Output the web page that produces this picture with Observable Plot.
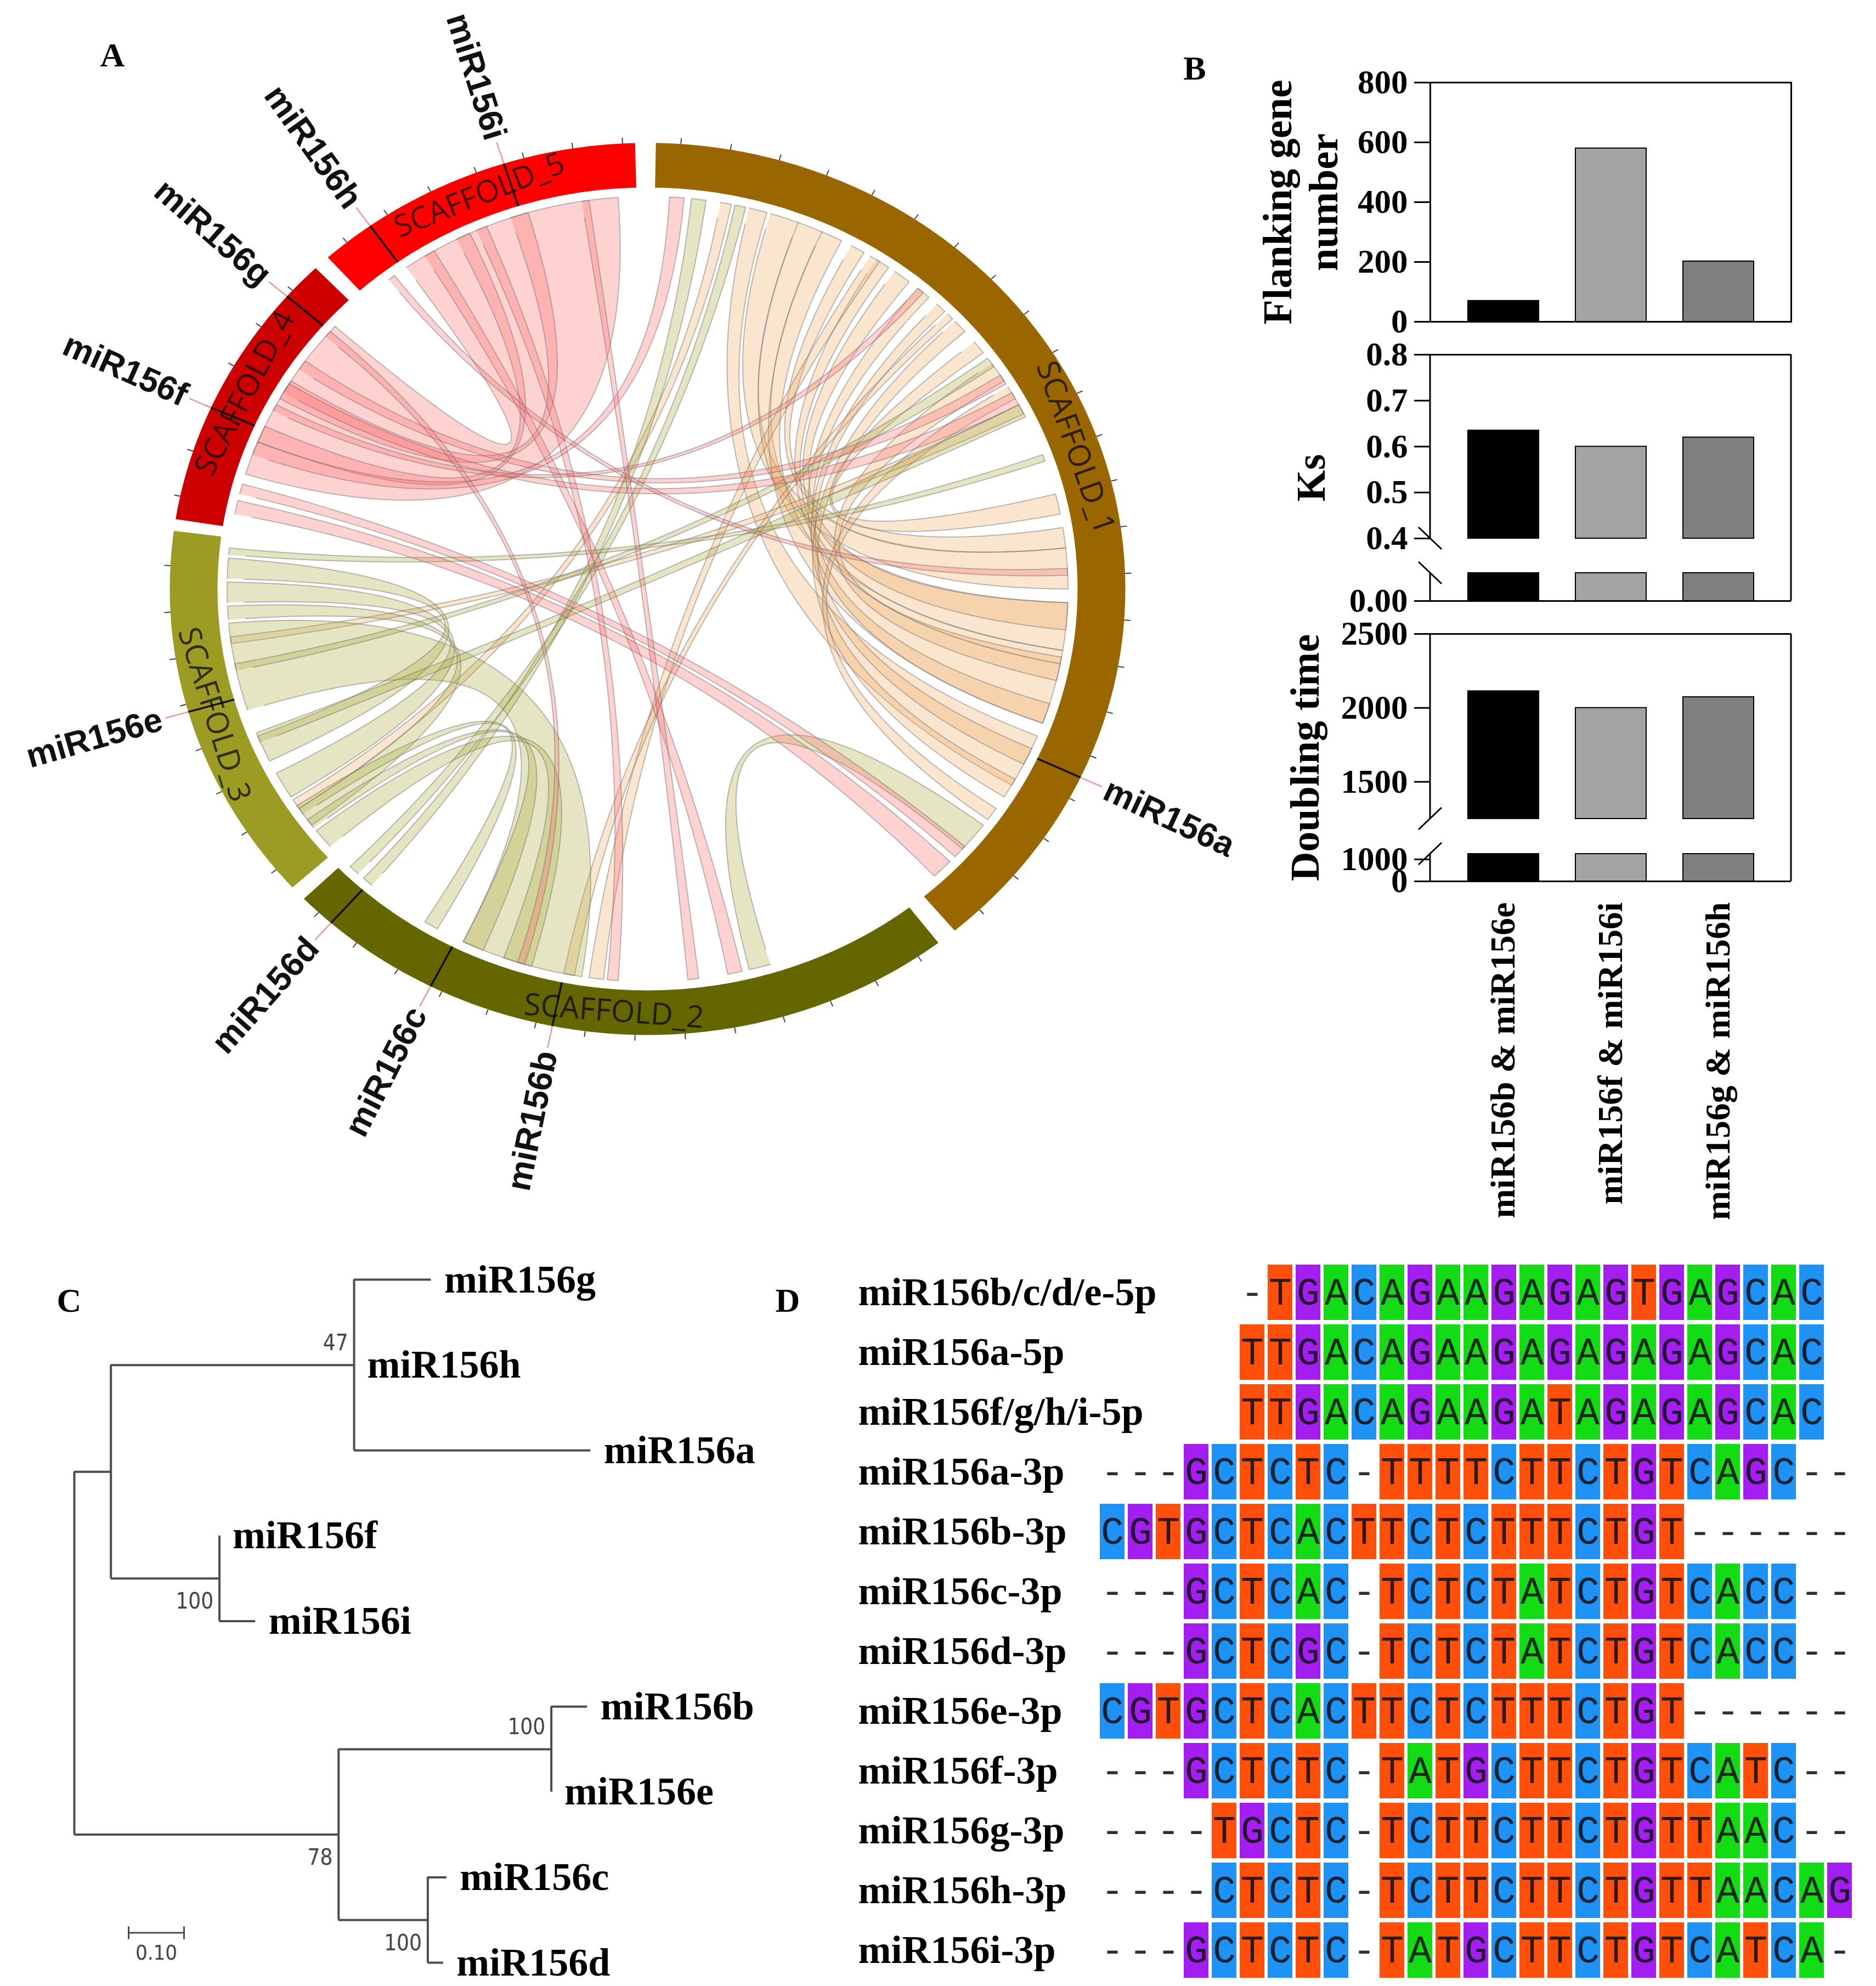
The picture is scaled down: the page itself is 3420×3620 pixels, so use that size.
<!DOCTYPE html>
<html>
<head>
<meta charset="utf-8">
<script src="https://cdn.jsdelivr.net/npm/d3@7"></script>
<script src="https://cdn.jsdelivr.net/npm/@observablehq/plot@0.6"></script>
<style>
  html, body { margin: 0; padding: 0; background: #fff; }
  #page { position: relative; width: 3420px; height: 3620px; overflow: hidden; background: #fff; }
  .panel { position: absolute; }
  .panel svg { max-width: none !important; }
</style>
</head>
<body>
<div id="page"></div>
<script>
// ---------------- DATA ----------------
// Panel A: circos plot
const scaffoldNames  = ["SCAFFOLD_1", "SCAFFOLD_2", "SCAFFOLD_3", "SCAFFOLD_4", "SCAFFOLD_5"];
const scaffoldStart  = [1, 142.5, 228, 279, 318];     // degrees, clockwise from top
const scaffoldEnd    = [140, 226, 277.5, 316, 358.5];
const scaffoldColors = ["#9a6600", "#666600", "#9c9c24", "#cc0000", "#ff0000"];
const mirNames  = ["miR156a", "miR156b", "miR156c", "miR156d", "miR156e", "miR156f", "miR156g", "miR156h", "miR156i"];
const mirAngles = [115, 191.5, 207, 221.5, 254, 294, 311, 324.5, 342.5];
// links: [sourceStart, sourceEnd, targetStart, targetEnd, group]
const links = [
  [17, 21, 84, 90, "o"], [21, 24.5, 92, 99, "o"], [24.5, 27.5, 101, 110, "o"], [14, 16.5, 112, 120, "o"],
  [29, 31, 81, 84, "o"], [33, 35, 99, 101, "o"], [36, 38.5, 92, 96, "o"],
  [40, 42, 107, 110, "o"], [43.5, 45, 114, 116.5, "o"], [47, 49, 119, 122, "o"], [51, 53, 76, 79, "o"],
  [55, 58, 100, 103.5, "o"], [59, 61, 124, 126, "o"], [32, 33.5, 186, 188, "o"], [45.5, 46.5, 190, 191.5, "o"],
  [10, 11.5, 236, 237.5, "o"], [62, 63.5, 262, 263, "o"],
  [252, 265, 189, 206, "g"], [268, 271, 238, 242, "g"], [271.5, 274.5, 244, 248, "g"], [265.5, 267.5, 233, 236, "g"],
  [229, 232, 196, 200, "g"], [232.5, 234, 203, 206, "g"], [235, 236.5, 210, 212, "g"], [221, 222.5, 6, 8, "g"],
  [223.5, 225, 12, 13.5, "g"], [247, 248.5, 62, 64, "g"], [258, 259, 54, 55.5, "g"], [163, 166, 127, 131.5, "g"],
  [275, 276, 70, 71, "g"],
  [325, 356, 287, 312, "p"], [341, 343.5, 299, 302, "p"], [333, 335, 292, 294.5, "p"], [328, 329.5, 167, 169, "p"],
  [336, 337.5, 184, 185.5, "p"], [281, 283, 134, 137, "p"], [284, 285.5, 131, 133, "p"], [300, 301.5, 60, 62, "p"],
  [304, 305.5, 57, 58.5, "p"], [290, 292, 3, 5, "p"], [322, 323, 87, 88, "p"], [310, 311, 197, 198, "p"],
  [351, 352, 173, 174.5, "p"], [297, 298, 40, 41, "p"]
];
const linkFill = {o: "#f0a860", g: "#a8a838", p: "#ff6a6a"};

// Panel B: bar charts
const pairs      = ["miR156b & miR156e", "miR156f & miR156i", "miR156g & miR156h"];
const barColors  = ["#000000", "#a3a3a6", "#7f7f7f"];
const flanking   = [70, 580, 202];
const ksValues   = [0.635, 0.60, 0.62];
const doubling   = [2113, 2000, 2073];
const flankTicks = [0, 200, 400, 600, 800];
const ksTicks    = [0, 0.4, 0.5, 0.6, 0.7, 0.8];
const dblTicks   = [0, 1000, 1500, 2000, 2500];
// broken-axis segments (value ranges kept on each side of the break)
const ksSegments  = [[0, 0.05], [0.4, 0.8]];
const dblSegments = [[0, 1100], [1250, 2500]];

// Panel C: neighbour-joining tree
const treeNodes     = ["root", "n1", "n2", "miR156g", "miR156h", "miR156a", "n3", "miR156f", "miR156i", "n4", "n5", "miR156b", "miR156e", "n6", "miR156c", "miR156d"];
const treeParents   = [null, "root", "n1", "n2", "n2", "n2", "n1", "n3", "n3", "root", "n4", "n5", "n5", "n4", "n6", "n6"];
const branchLengths = [0, 0.066, 0.439, 0.139, 0, 0.427, 0.196, 0, 0.065, 0.477, 0.384, 0.065, 0, 0.161, 0.034, 0.028];
const leafOrder     = ["miR156g", "miR156h", "miR156a", "miR156f", "miR156i", "miR156b", "miR156e", "miR156c", "miR156d"];
const bootstrapNodes  = ["n2", "n3", "n4", "n5", "n6"];
const bootstrapValues = [47, 100, 78, 100, 100];
const bootstrapAbove  = [true, false, false, true, false];
const scaleBarLength  = 0.10;

// Panel D: alignment
const alignNames = ["miR156b/c/d/e-5p", "miR156a-5p", "miR156f/g/h/i-5p", "miR156a-3p", "miR156b-3p", "miR156c-3p",
                    "miR156d-3p", "miR156e-3p", "miR156f-3p", "miR156g-3p", "miR156h-3p", "miR156i-3p"];
const alignSeqs = [
  "     -TGACAGAAGAGAGTGAGCAC ",
  "     TTGACAGAAGAGAGAGAGCAC ",
  "     TTGACAGAAGATAGAGAGCAC ",
  "---GCTCTC-TTTTCTTCTGTCAGC--",
  "CGTGCTCACTTCTCTTTCTGT------",
  "---GCTCAC-TCTCTATCTGTCACC--",
  "---GCTCGC-TCTCTATCTGTCACC--",
  "CGTGCTCACTTCTCTTTCTGT------",
  "---GCTCTC-TATGCTTCTGTCATC--",
  "----TGCTC-TCTTCTTCTGTTAAC--",
  "----CTCTC-TCTTCTTCTGTTAACAG",
  "---GCTCTC-TATGCTTCTGTCATCA-"
];
const ntColors = {T: "#ff4f0a", G: "#a41ef2", A: "#14dc14", C: "#1e92f5"};

// ---------------- HELPERS ----------------
const SERIF = "'Liberation Serif', 'Times New Roman', serif";
const SANS = "'Liberation Sans', Arial, sans-serif";
const NARROW = "'Liberation Sans Narrow', 'DejaVu Sans Condensed', 'Roboto Condensed', 'Liberation Sans', sans-serif";
const page = document.getElementById("page");
function place(node, left, top) {
  const div = document.createElement("div");
  div.className = "panel";
  div.style.left = left + "px";
  div.style.top = top + "px";
  div.appendChild(node);
  page.appendChild(div);
}
const rad = d => d * Math.PI / 180;
const px = (a, r) => r * Math.sin(rad(a));
const py = (a, r) => -r * Math.cos(rad(a));

// ---------------- PANEL A ----------------
const CX = 1180, CY = 1073, RX = 871, RY = 813;
const R_OUT = 1.0, R_IN = 0.9, R_LINK = 0.88;

const ringPts = [];
scaffoldNames.forEach((name, i) => {
  const s = scaffoldStart[i], e = scaffoldEnd[i];
  const n = Math.ceil((e - s) / 0.5);
  for (let k = 0; k <= n; k++) { const a = s + (e - s) * k / n; ringPts.push({id: i, x: px(a, R_OUT), y: py(a, R_OUT), fill: scaffoldColors[i]}); }
  for (let k = n; k >= 0; k--) { const a = s + (e - s) * k / n; ringPts.push({id: i, x: px(a, R_IN), y: py(a, R_IN), fill: scaffoldColors[i]}); }
});

const linkPts = [];
const groupOrder = ["o", "g", "p"];
const sortedLinks = links.slice().sort((a, b) => groupOrder.indexOf(a[4]) - groupOrder.indexOf(b[4]));
sortedLinks.forEach((l, id) => {
  const [a0, a1, b0, b1, grp] = l;
  const fill = linkFill[grp];
  const arc = (s, e) => {
    const n = Math.max(2, Math.ceil(Math.abs(e - s) / 0.5));
    for (let k = 0; k <= n; k++) { const a = s + (e - s) * k / n; linkPts.push({id, fill, x: px(a, R_LINK), y: py(a, R_LINK)}); }
  };
  const bez = (s, e) => {
    const x0 = px(s, R_LINK), y0 = py(s, R_LINK), x2 = px(e, R_LINK), y2 = py(e, R_LINK);
    for (let k = 1; k < 48; k++) { const t = k / 48, w0 = (1 - t) * (1 - t), w2 = t * t; linkPts.push({id, fill, x: w0 * x0 + w2 * x2, y: w0 * y0 + w2 * y2}); }
  };
  arc(a0, a1); bez(a1, b0); arc(b0, b1); bez(b1, a0);
});

const tickData = [];
scaffoldNames.forEach((name, i) => {
  for (let a = scaffoldStart[i] + 3; a < scaffoldEnd[i] - 1; a += 6) tickData.push(a);
});

const mirs = mirNames.map((name, i) => ({name, a: mirAngles[i]}));
const scaffoldLabels = scaffoldNames.map((name, i) => {
  const a = (scaffoldStart[i] + scaffoldEnd[i]) / 2;
  const rot = (a > 90 && a < 270) ? a - 180 : (a >= 270 ? a - 360 : a);
  return {name, a, rot};
});

const chord = Plot.plot({
  width: 2300, height: 2250, margin: 0,
  style: {background: "transparent", maxWidth: "none"},
  x: {domain: [-1, 1], range: [CX - RX, CX + RX], axis: null},
  y: {domain: [-1, 1], range: [CY - RY, CY + RY], axis: null},
  color: {type: "identity"},
  marks: [
    Plot.line(linkPts, {x: "x", y: "y", z: "id", fill: "fill", fillOpacity: 0.3, stroke: "#6d6d6d", strokeOpacity: 0.45, strokeWidth: 2, curve: "linear"}),
    Plot.line(ringPts, {x: "x", y: "y", z: "id", fill: "fill", stroke: "none", curve: "linear"}),
    Plot.link(tickData, {x1: a => px(a, R_OUT), y1: a => py(a, R_OUT), x2: a => px(a, 1.013), y2: a => py(a, 1.013), stroke: "#444", strokeWidth: 2}),
    Plot.link(mirs, {x1: d => px(d.a, R_IN), y1: d => py(d.a, R_IN), x2: d => px(d.a, R_OUT), y2: d => py(d.a, R_OUT), stroke: "#111", strokeWidth: 3.5}),
    Plot.link(mirs, {x1: d => px(d.a, R_OUT), y1: d => py(d.a, R_OUT), x2: d => px(d.a, 1.05), y2: d => py(d.a, 1.05), stroke: "#e89a9a", strokeWidth: 2.5}),
    Plot.text(mirs.filter(d => d.a < 180), {x: d => px(d.a, 1.058), y: d => py(d.a, 1.058), text: "name", rotate: d => d.a - 90, textAnchor: "start", fontSize: 62, fontWeight: "bold", fontFamily: SANS, fill: "#111"}),
    Plot.text(mirs.filter(d => d.a >= 180), {x: d => px(d.a, 1.058), y: d => py(d.a, 1.058), text: "name", rotate: d => d.a - 270, textAnchor: "end", fontSize: 62, fontWeight: "bold", fontFamily: SANS, fill: "#111"}),
    Plot.text(scaffoldLabels, {x: d => px(d.a, 0.95), y: d => py(d.a, 0.95), text: "name", rotate: "rot", textAnchor: "middle", fontSize: 56, fontFamily: "'Open Sans', 'Noto Sans', sans-serif", fill: "#000", fillOpacity: 0.7})
  ]
});
place(chord, 0, 0);

// ---------------- PANEL B ----------------
const flankData = pairs.map((p, i) => ({pair: p, v: flanking[i], color: barColors[i]}));
const ksData = pairs.map((p, i) => ({pair: p, v: ksValues[i], color: barColors[i]}));
const dblData = pairs.map((p, i) => ({pair: p, v: doubling[i], color: barColors[i]}));
const axisFont = {fontSize: 61, fontWeight: "bold", fontFamily: SERIF};

// piecewise-linear transforms that squeeze the gap of each broken axis (endpoints unchanged)
const ksTransform = d3.scaleLinear().domain([0, 0.05, 0.4, 0.8]).range([0, 0.0909, 0.2031, 0.8]);
const dblTransform = d3.scaleLinear().domain([0, 1000, 1100, 1250, 2500]).range([0, 221.7, 277.2, 632, 2500]);

function brokenFrame(segs, tf, slash) {
  return (index, scales, values, dim) => {
    const g = d3.create("svg:g").attr("stroke", "#000").attr("stroke-width", 3).attr("fill", "none");
    const xl = dim.marginLeft, xr = dim.width - dim.marginRight;
    const y = v => scales.y(tf(v));
    g.append("line").attr("x1", xr).attr("x2", xr).attr("y1", y(segs[segs.length - 1][1])).attr("y2", y(segs[0][0]));
    for (const [a, b] of segs) g.append("line").attr("x1", xl).attr("x2", xl).attr("y1", y(a)).attr("y2", y(b));
    const breaks = [segs[0][1], segs[1][0]];
    for (const v of breaks) {
      const yy = y(v);
      g.append("line").attr("x1", xl - 21).attr("x2", xl + 21)
        .attr("y1", yy + (slash ? 20 : -20)).attr("y2", yy + (slash ? -20 : 20));
    }
    return g.node();
  };
}

const flankPlot = Plot.plot({
  width: 1220, height: 540, marginLeft: 407, marginRight: 155, marginTop: 50, marginBottom: 54,
  style: {background: "transparent", maxWidth: "none", fontFamily: SERIF},
  x: {domain: pairs, padding: 0.343, axis: null},
  y: {domain: [0, 800]},
  color: {type: "identity"},
  marks: [
    Plot.barY(flankData, {x: "pair", y: "v", fill: "color", stroke: "#000", strokeWidth: 2}),
    Plot.frame({stroke: "#000", strokeWidth: 3}),
    Plot.axisY({ticks: flankTicks, tickSize: 29, tickPadding: 12, strokeWidth: 3, label: null, tickFormat: d => String(d), ...axisFont}),
    Plot.text(["Flanking gene\nnumber"], {frameAnchor: "left", dx: -238, rotate: -90, textAnchor: "middle", lineAnchor: "middle", lineHeight: 1.135, fontSize: 74, fontWeight: "bold", fontFamily: SERIF})
  ]
});
place(flankPlot, 2200, 100);

const ksPlot = Plot.plot({
  width: 1220, height: 550, marginLeft: 407, marginRight: 155, marginTop: 46, marginBottom: 55,
  style: {background: "transparent", maxWidth: "none", fontFamily: SERIF},
  x: {domain: pairs, padding: 0.343, axis: null},
  y: {domain: [0, 0.8], transform: ksTransform},
  color: {type: "identity"},
  marks: [
    Plot.barY(ksData, {x: "pair", y1: ksSegments[1][0], y2: "v", fill: "color", stroke: "#000", strokeWidth: 2}),
    Plot.barY(ksData, {x: "pair", y1: ksSegments[0][0], y2: ksSegments[0][1], fill: "color", stroke: "#000", strokeWidth: 2}),
    Plot.ruleY([0.8, 0], {stroke: "#000", strokeWidth: 3}),
    brokenFrame(ksSegments, ksTransform, false),
    // axis tick data are placed at transformed positions, labelled with the original values
    Plot.axisY({ticks: ksTicks.map(ksTransform), tickSize: 29, tickPadding: 12, strokeWidth: 3, label: null,
      tickFormat: d => { const v = Math.round(ksTransform.invert(d) * 100) / 100; return v === 0 ? "0.00" : v.toFixed(1); }, ...axisFont}),
    Plot.text(["Ks"], {frameAnchor: "left", dx: -216, rotate: -90, textAnchor: "middle", fontSize: 74, fontWeight: "bold", fontFamily: SERIF})
  ]
});
place(ksPlot, 2200, 600);

const dblPlot = Plot.plot({
  width: 1220, height: 1130, marginLeft: 407, marginRight: 155, marginTop: 35, marginBottom: 644,
  style: {background: "transparent", maxWidth: "none", fontFamily: SERIF},
  x: {domain: pairs, padding: 0.343},
  y: {domain: [0, 2500], transform: dblTransform},
  color: {type: "identity"},
  marks: [
    Plot.barY(dblData, {x: "pair", y1: dblSegments[1][0], y2: "v", fill: "color", stroke: "#000", strokeWidth: 2}),
    Plot.barY(dblData, {x: "pair", y1: dblSegments[0][0], y2: dblSegments[0][1], fill: "color", stroke: "#000", strokeWidth: 2}),
    Plot.ruleY([2500, 0], {stroke: "#000", strokeWidth: 3}),
    brokenFrame(dblSegments, dblTransform, true),
    Plot.axisY({ticks: dblTicks.map(dblTransform), tickSize: 29, tickPadding: 12, strokeWidth: 3, label: null,
      tickFormat: d => String(Math.round(dblTransform.invert(d))), ...axisFont}),
    Plot.axisX({tickRotate: -90, tickSize: 0, tickPadding: 38, label: null, fontSize: 64, fontWeight: "bold", fontFamily: SERIF}),
    Plot.text(["Doubling time"], {frameAnchor: "left", dx: -227, rotate: -90, textAnchor: "middle", fontSize: 74, fontWeight: "bold", fontFamily: SERIF})
  ]
});
place(dblPlot, 2200, 1120);

// ---------------- PANEL C ----------------
const nodes = treeNodes.map((name, i) => ({name, parent: treeParents[i], len: branchLengths[i], children: []}));
const byName = new Map(nodes.map(n => [n.name, n]));
nodes.forEach(n => { if (n.parent) byName.get(n.parent).children.push(n); });
nodes.forEach(n => { n.x = n.parent ? byName.get(n.parent).x + n.len : 0; });
for (let i = nodes.length - 1; i >= 0; i--) {
  const n = nodes[i];
  if (n.children.length === 0) n.y = leafOrder.indexOf(n.name);
  else {
    const ys = n.children.map(c => c.y);
    n.y1 = Math.min(...ys); n.y2 = Math.max(...ys); n.y = (n.y1 + n.y2) / 2;
  }
}
const internal = nodes.filter(n => n.children.length > 0);
const nonRoot = nodes.filter(n => n.parent);
const leaves = nodes.filter(n => n.children.length === 0);
const boots = bootstrapNodes.map((name, i) => ({node: byName.get(name), v: bootstrapValues[i], above: bootstrapAbove[i]}));
const SB_X = 0.098, SB_Y = 7.65;
const scaleBar = [{x1: SB_X, x2: SB_X + scaleBarLength, label: scaleBarLength.toFixed(2)}];

const treePlot = Plot.plot({
  width: 1540, height: 1370, margin: 0,
  style: {background: "transparent", maxWidth: "none"},
  x: {domain: [0, 1], range: [135, 1145], axis: null},
  y: {domain: [0, 8], range: [82, 1327], axis: null},
  marks: [
    Plot.ruleY(nonRoot, {y: "y", x1: d => byName.get(d.parent).x, x2: "x", stroke: "#4d4d4d", strokeWidth: 4}),
    Plot.ruleX(internal, {x: "x", y1: "y1", y2: "y2", stroke: "#4d4d4d", strokeWidth: 4}),
    Plot.text(leaves, {x: "x", y: "y", text: "name", dx: 24, textAnchor: "start", fontSize: 72, fontWeight: "bold", fontFamily: SERIF, fill: "#000"}),
    Plot.text(boots.filter(d => d.above), {x: d => d.node.x, y: d => d.node.y, text: "v", dx: -11, dy: -40, textAnchor: "end", fontSize: 40, fontFamily: NARROW, fill: "#444"}),
    Plot.text(boots.filter(d => !d.above), {x: d => d.node.x, y: d => d.node.y, text: "v", dx: -11, dy: 42, textAnchor: "end", fontSize: 40, fontFamily: NARROW, fill: "#444"}),
    Plot.ruleY(scaleBar, {y: SB_Y, x1: "x1", x2: "x2", stroke: "#4d4d4d", strokeWidth: 3}),
    Plot.link(scaleBar.flatMap(d => [d.x1, d.x2]), {x1: d => d, x2: d => d, y1: SB_Y - 0.075, y2: SB_Y + 0.075, stroke: "#4d4d4d", strokeWidth: 3}),
    Plot.text(scaleBar, {x: d => (d.x1 + d.x2) / 2, y: SB_Y, text: "label", dy: 37, fontSize: 38, fontFamily: NARROW, fill: "#444"})
  ]
});
place(treePlot, 0, 2250);

// ---------------- PANEL D ----------------
const cells = [];
alignSeqs.forEach((seq, r) => {
  for (let c = 0; c < seq.length; c++) if (seq[c] !== " ") cells.push({row: alignNames[r], col: c, ch: seq[c]});
});
const nCols = alignSeqs[0].length;
const alignPlot = Plot.plot({
  width: 1880, height: 1370, marginLeft: 24, marginTop: 0, marginBottom: 0, marginRight: 0,
  style: {background: "transparent", maxWidth: "none"},
  x: {domain: d3.range(nCols), range: [451, 1850], paddingInner: 0.12, paddingOuter: 0.06, axis: null},
  y: {domain: alignNames, range: [50, 1360.4], paddingInner: 0.075, paddingOuter: 0.0375, axis: null},
  color: {type: "identity"},
  marks: [
    Plot.cell(cells.filter(d => ntColors[d.ch]), {x: "col", y: "row", fill: d => ntColors[d.ch]}),
    Plot.text(cells, {x: "col", y: "row", text: "ch", fontSize: 70, fontFamily: "'Liberation Mono', 'DejaVu Sans Mono', monospace", fill: "#111", fillOpacity: 0.88}),
    Plot.text(alignNames, {y: d => d, frameAnchor: "left", textAnchor: "start", fontSize: 72, fontWeight: "bold", fontFamily: SERIF, fill: "#000"})
  ]
});
place(alignPlot, 1540, 2250);

// ---------------- PANEL LETTERS ----------------
const panelLetters = ["A", "B", "C", "D"];
const letterPos = [[205, 100], [2178, 124], [126, 2370], [1436, 2370]];
const svgNS = "http://www.w3.org/2000/svg";
const overlay = document.createElementNS(svgNS, "svg");
overlay.setAttribute("width", 3420); overlay.setAttribute("height", 3620);
overlay.style.position = "absolute"; overlay.style.left = "0px"; overlay.style.top = "0px"; overlay.style.pointerEvents = "none";
panelLetters.forEach((t, i) => {
  const el = document.createElementNS(svgNS, "text");
  el.setAttribute("x", letterPos[i][0]); el.setAttribute("y", letterPos[i][1]);
  el.setAttribute("text-anchor", "middle"); el.setAttribute("dominant-baseline", "central");
  el.setAttribute("font-family", SERIF); el.setAttribute("font-weight", "bold"); el.setAttribute("font-size", "62");
  el.textContent = t;
  overlay.appendChild(el);
});
page.appendChild(overlay);
</script>
</body>
</html>
